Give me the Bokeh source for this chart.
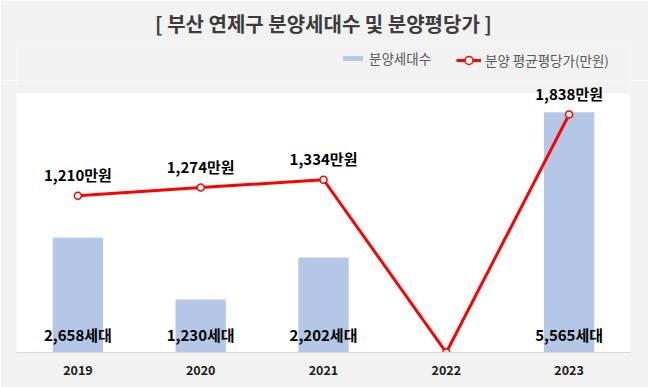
from bokeh.plotting import figure
from bokeh.layouts import column
from bokeh.models import Range1d, Legend, LegendItem, ColumnDataSource, FactorRange, Title, BoxAnnotation
from bokeh.core.properties import value
from bokeh.embed import file_html
from bokeh.resources import INLINE

years = ["2019", "2020", "2021", "2022", "2023"]
households = [2658, 1230, 2202, 0, 5565]
price = [1210, 1274, 1334, 0, 1838]
title_text = "[ 부산 연제구 분양세대수 및 분양평당가 ]"
bar_name = "분양세대수"
line_name = "분양 평균평당가(만원)"

# axis limits of the (hidden) value axes
Y_MAX = 6000
P_MAX = 2000

FONT = "Noto Sans CJK KR"
BAR_COLOR = "#b4c7e7"
LINE_COLOR = "#ff0000"
BG = "#f2f2f2"

bar_labels = [f"{v:,}세대" if v > 0 else "" for v in households]
price_labels = [f"{v:,}만원" if v > 0 else "" for v in price]

src = ColumnDataSource(dict(x=years, h=households, p=price, hl=bar_labels, pl=price_labels))

# ---- header (title + legend) ----
HEAD_H = 80
head = figure(width=648, height=HEAD_H, x_range=Range1d(0, 1), y_range=Range1d(0, 1),
              x_axis_type=None, y_axis_type=None, output_backend="svg", toolbar_location=None,
              min_border_left=0, min_border_right=0, min_border_top=13, min_border_bottom=0)
head.background_fill_color = BG
head.border_fill_color = BG
head.outline_line_color = None
head.xgrid.grid_line_color = None
head.ygrid.grid_line_color = None
head.title = Title(text=title_text, align="center", text_font=FONT, text_font_size="20px",
                   text_font_style="bold", text_color="#3c3c3c", standoff=0, padding=6)

nan = float("nan")
empty = ColumnDataSource(dict(x=[nan], y=[nan]))
lb = head.vbar(x="x", top="y", width=0.1, source=empty, color=BAR_COLOR, line_color=None)
ll = head.line(x="x", y="y", source=empty, line_color=LINE_COLOR, line_width=3)
lp = head.scatter(x="x", y="y", source=empty, size=7, fill_color="white",
                  line_color=LINE_COLOR, line_width=1.5)

common = dict(orientation="horizontal", padding=0, margin=0, spacing=0, glyph_width=25,
              label_standoff=4, label_text_font=FONT, label_text_font_size="13.5px",
              label_text_color="#595959", background_fill_alpha=0, border_line_color=None)
leg1 = Legend(items=[LegendItem(label=bar_name, renderers=[lb])],
              location=(324, 12), glyph_height=6, **common)
leg2 = Legend(items=[LegendItem(label=line_name, renderers=[ll, lp])],
              location=(440, 10), glyph_height=20, **common)
head.add_layout(leg1)
head.add_layout(leg2)

# ---- main chart ----
FRAME_H = 272   # frame height (px), plot area is the lower part of it
PLOT_H = 259    # height of the white plot area (px)
p = figure(width=648, height=387 - HEAD_H, x_range=FactorRange(*years, range_padding=0),
           y_range=Range1d(0, Y_MAX * FRAME_H / PLOT_H), output_backend="svg",
           toolbar_location=None,
           min_border_left=16, min_border_right=18, min_border_top=0, min_border_bottom=35)
p.extra_y_ranges = {"price": Range1d(0, P_MAX * FRAME_H / PLOT_H)}

p.background_fill_color = BG
p.border_fill_color = BG
p.outline_line_color = None
p.xgrid.grid_line_color = None
p.ygrid.grid_line_color = None
p.yaxis.visible = False

p.add_layout(BoxAnnotation(bottom=0, top=Y_MAX, fill_color="white", fill_alpha=1,
                           line_color=None, level="underlay"))

p.vbar(x="x", top="h", width=0.41, source=src, color=BAR_COLOR, line_color=None)
p.line(x="x", y="p", source=src, y_range_name="price", line_color=LINE_COLOR, line_width=3)
p.scatter(x="x", y="p", source=src, y_range_name="price", size=7, fill_color="white",
          line_color=LINE_COLOR, line_width=1.5)

p.text(x="x", y="p", text="pl", source=src, y_range_name="price", text_font=value(FONT),
       text_font_size="15px", text_font_style="bold", text_color="black",
       text_align="center", text_baseline="middle", y_offset=-21)
p.text(x="x", y=0, text="hl", source=src, text_font=value(FONT),
       text_font_size="15px", text_font_style="bold", text_color="black",
       text_align="center", text_baseline="middle", y_offset=-18)

xa = p.xaxis[0]
xa.axis_line_color = "#d9d9d9"
xa.major_tick_line_color = None
xa.minor_tick_line_color = None
xa.major_label_text_font = FONT
xa.major_label_text_font_size = "12.5px"
xa.major_label_text_font_style = "bold"
xa.major_label_text_color = "#1a1a1a"
xa.major_label_standoff = 6

layout = column(head, p, spacing=0)

open("out.html", "w").write(file_html(layout, INLINE))
